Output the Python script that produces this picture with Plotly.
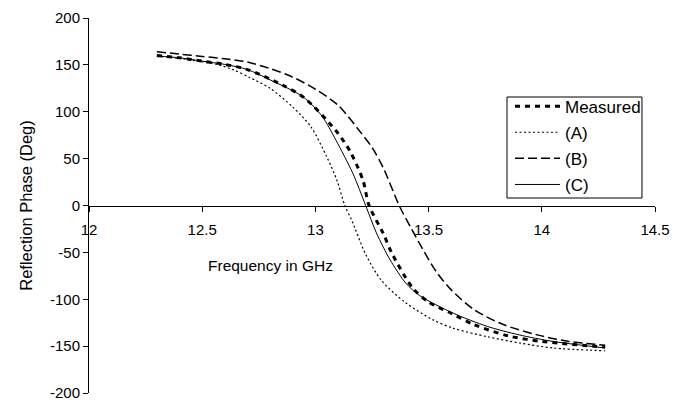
import plotly.graph_objects as go

# Frequency (GHz) and reflection phase (deg)
freq_measured = [12.30, 12.40, 12.50, 12.60, 12.70, 12.85, 12.95, 13.09, 13.155, 13.21, 13.237, 13.30, 13.34, 13.43, 13.50, 13.60, 13.70, 13.85, 14.00, 14.28]
phase_measured = [160, 157.5, 154, 150.5, 145, 129, 115, 80, 57, 27, 0, -30, -52, -88, -103, -115, -127, -139, -145, -151]

freq_a = [12.30, 12.40, 12.48, 12.565, 12.64, 12.71, 12.80, 12.90, 12.98, 13.05, 13.095, 13.13, 13.16, 13.22, 13.29, 13.40, 13.52, 13.61, 13.76, 13.91, 14.05, 14.28]
phase_a = [159, 157, 154, 150.5, 144.5, 136.5, 125, 105, 84, 52, 27, 0, -15.5, -51, -79.5, -104, -122, -131, -140, -147, -152, -155]

freq_b = [12.30, 12.40, 12.50, 12.60, 12.70, 12.80, 12.90, 13.00, 13.10, 13.20, 13.25, 13.30, 13.37, 13.42, 13.475, 13.535, 13.60, 13.70, 13.83, 13.98, 14.12, 14.28]
phase_b = [164, 161.5, 159, 156.5, 153, 146, 137, 124, 107, 78, 62, 40, 0, -23, -47, -71, -90, -111, -127, -138, -145, -149]

freq_c = [12.30, 12.40, 12.50, 12.60, 12.70, 12.80, 12.945, 13.03, 13.09, 13.165, 13.222, 13.27, 13.33, 13.40, 13.46, 13.61, 13.76, 13.90, 14.05, 14.28]
phase_c = [159.5, 157.5, 154, 150.5, 145, 134, 116, 95, 70, 34.5, 0, -29.5, -58, -83, -96, -115, -129, -138, -145, -152]

series_names = ["Measured", "(A)", "(B)", "(C)"]

x_ticks = [12, 12.5, 13, 13.5, 14, 14.5]
y_ticks = [-200, -150, -100, -50, 0, 50, 100, 150, 200]

FONT = "Liberation Sans, Arial, sans-serif"

fig = go.Figure()
styles = [
    dict(color="black", width=3, dash="5px,5px"),
    dict(color="black", width=1.2, dash="2px,2.5px"),
    dict(color="black", width=1.5, dash="9px,4px"),
    dict(color="black", width=1, dash="solid"),
]
for name, xs, ys, st in zip(series_names,
                            [freq_measured, freq_a, freq_b, freq_c],
                            [phase_measured, phase_a, phase_b, phase_c],
                            styles):
    fig.add_trace(go.Scatter(x=xs, y=ys, mode="lines", name=name, legendgroup=name,
                             line=dict(shape="spline", smoothing=0.8, **st)))

# The page body has an 8px margin, so the figure is sized to fill the rest of the window
fig.update_layout(
    width=677, height=399,
    margin=dict(l=81, r=30, t=10, b=14),
    paper_bgcolor="white", plot_bgcolor="white",
    font=dict(family=FONT, color="black", size=15),
    showlegend=True,
    legend=dict(x=0.7438, y=0.8117, xanchor="left", yanchor="top",
                bgcolor="rgba(0,0,0,0)", borderwidth=0,
                font=dict(size=17), tracegroupgap=1, itemwidth=45),
    xaxis=dict(range=[12, 14.5], tickvals=x_ticks, ticktext=[f"{t:g}" for t in x_ticks],
               anchor="free", position=0.5, automargin=False,
               showline=True, linecolor="black", linewidth=1,
               ticks="outside", ticklen=5, tickcolor="black", ticklabelstandoff=5,
               showgrid=False, zeroline=False, tickfont=dict(size=15)),
    yaxis=dict(range=[-200, 200], tickvals=y_ticks, ticktext=[str(t) for t in y_ticks],
               domain=[0, 1], automargin=False,
               showline=True, linecolor="black", linewidth=1,
               ticks="outside", ticklen=5, tickcolor="black",
               showgrid=False, zeroline=False, tickfont=dict(size=15),
               title=dict(text="Reflection Phase (Deg)", font=dict(size=16.5), standoff=13)),
)
# Legend frame
fig.add_shape(type="rect", xref="paper", yref="paper", x0=0.7385, x1=0.977, y0=0.52, y1=0.7893,
              line=dict(color="black", width=1), fillcolor="white", layer="above")
fig.add_annotation(text="Frequency in GHz", x=0.32, y=0.341, xref="paper", yref="paper",
                   showarrow=False, font=dict(size=15.5), xanchor="center", yanchor="middle")

fig.write_html("out.html")
